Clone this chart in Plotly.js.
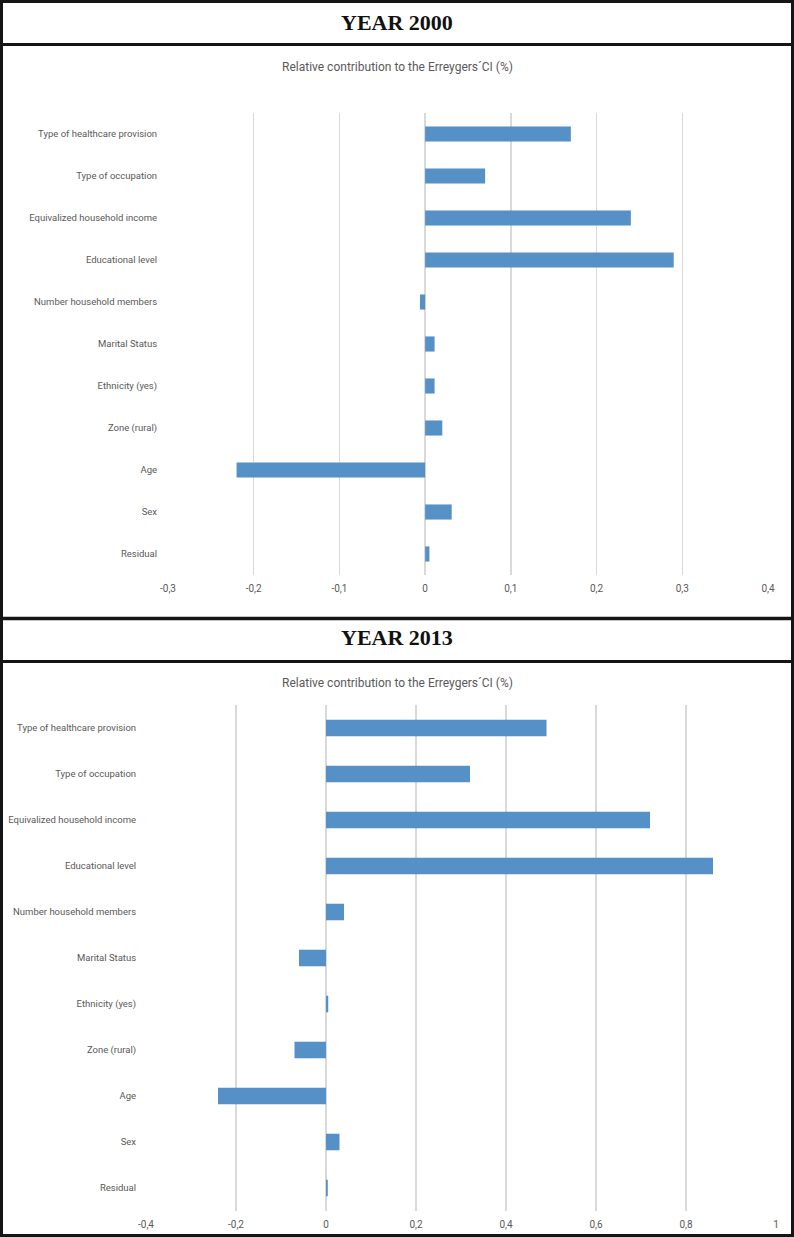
<!DOCTYPE html>
<html>
<head>
<meta charset="utf-8">
<script src="https://cdn.plot.ly/plotly-3.0.1.min.js"></script>
<style>
  html, body { margin: 0; padding: 0; background: #ffffff; }
  #chart { width: 794px; height: 1237px; }
</style>
</head>
<body>
<div id="chart"></div>
<script>
// ---- Data ----
const categories = [
  "Type of healthcare provision",
  "Type of occupation",
  "Equivalized household income",
  "Educational level",
  "Number household members",
  "Marital Status",
  "Ethnicity (yes)",
  "Zone (rural)",
  "Age",
  "Sex",
  "Residual"
];
const values2000 = [0.17, 0.07, 0.24, 0.29, -0.006, 0.011, 0.011, 0.02, -0.22, 0.031, 0.005];
const values2013 = [0.49, 0.32, 0.72, 0.86, 0.04, -0.06, 0.005, -0.07, -0.24, 0.03, 0.004];

const tickVals2000 = [-0.3, -0.2, -0.1, 0, 0.1, 0.2, 0.3, 0.4];
const tickText2000 = ["-0,3", "-0,2", "-0,1", "0", "0,1", "0,2", "0,3", "0,4"];
const tickVals2013 = [-0.4, -0.2, 0, 0.2, 0.4, 0.6, 0.8, 1];
const tickText2013 = ["-0,4", "-0,2", "0", "0,2", "0,4", "0,6", "0,8", "1"];

const headers = ["YEAR 2000", "YEAR 2013"];
const subtitle = "Relative contribution to the Erreygers\u00B4CI (%)";

// ---- Layout helpers (pixel -> paper) ----
const W = 794, H = 1237;
const px = x => x / W;
const py = y => 1 - y / H;

const barColor = "#5590c7";
const gridColor = "#d9d9d9";
const fam = "Roboto, Arial, sans-serif";
const yLabelFont = { family: fam, size: 9.5, color: "#595959" };
const xLabelFont = { family: fam, size: 10, color: "#595959" };

const traces = [
  {
    type: "bar", orientation: "h",
    y: categories, x: values2000,
    xaxis: "x", yaxis: "y",
    marker: { color: barColor },
    width: 0.36
  },
  {
    type: "bar", orientation: "h",
    y: categories, x: values2013,
    xaxis: "x2", yaxis: "y2",
    marker: { color: barColor },
    width: 0.36
  }
];

function xAxis(domain, range, vals, text, anchor) {
  return {
    domain: domain, range: range, anchor: anchor,
    tickvals: vals, ticktext: text,
    showgrid: true, gridcolor: gridColor, gridwidth: 1.5,
    zeroline: false, showline: false,
    ticks: "outside", ticklen: 4, tickcolor: "rgba(0,0,0,0)",
    tickfont: xLabelFont, fixedrange: true
  };
}
function yAxis(domain, anchor, standoff) {
  return {
    domain: domain, anchor: anchor,
    type: "category", categoryorder: "array", categoryarray: categories,
    range: [categories.length - 0.5, -0.5],
    showgrid: false, zeroline: false, showline: false,
    ticks: "outside", ticklen: standoff, tickcolor: "rgba(0,0,0,0)",
    tickfont: yLabelFont, fixedrange: true
  };
}

const layout = {
  width: W, height: H,
  margin: { l: 0, r: 0, t: 0, b: 0 },
  paper_bgcolor: "#ffffff", plot_bgcolor: "rgba(0,0,0,0)",
  showlegend: false,
  hovermode: false,
  xaxis: xAxis([px(168), px(768)], [-0.3, 0.4], tickVals2000, tickText2000, "y"),
  yaxis: yAxis([py(575), py(113)], "x", 8),
  xaxis2: xAxis([px(146), px(776)], [-0.4, 1.0], tickVals2013, tickText2013, "y2"),
  yaxis2: yAxis([py(1211), py(705)], "x2", 7),
  shapes: [
    { type: "rect", xref: "paper", yref: "paper", x0: px(1.5), x1: px(792.5), y0: py(1.5), y1: py(1235.5),
      line: { color: "#151515", width: 3 } },
    { type: "line", xref: "paper", yref: "paper", x0: 0, x1: 1, y0: py(44.5), y1: py(44.5),
      line: { color: "#151515", width: 3 } },
    { type: "line", xref: "paper", yref: "paper", x0: 0, x1: 1, y0: py(618.5), y1: py(618.5),
      line: { color: "#151515", width: 3.5 } },
    { type: "line", xref: "paper", yref: "paper", x0: 0, x1: 1, y0: py(661.5), y1: py(661.5),
      line: { color: "#151515", width: 3 } }
  ],
  annotations: [
    { xref: "paper", yref: "paper", x: px(397), y: py(22), text: "<b>" + headers[0] + "</b>", showarrow: false,
      xanchor: "center", yanchor: "middle",
      font: { family: "Liberation Serif, Times New Roman, serif", size: 22, color: "#111111" } },
    { xref: "paper", yref: "paper", x: px(397), y: py(67), text: subtitle, showarrow: false,
      xanchor: "center", yanchor: "middle",
      font: { family: fam, size: 12, color: "#595959" } },
    { xref: "paper", yref: "paper", x: px(397), y: py(637), text: "<b>" + headers[1] + "</b>", showarrow: false,
      xanchor: "center", yanchor: "middle",
      font: { family: "Liberation Serif, Times New Roman, serif", size: 22, color: "#111111" } },
    { xref: "paper", yref: "paper", x: px(397), y: py(683), text: subtitle, showarrow: false,
      xanchor: "center", yanchor: "middle",
      font: { family: fam, size: 12, color: "#595959" } }
  ]
};

Plotly.newPlot("chart", traces, layout, { staticPlot: true, displayModeBar: false });
</script>
</body>
</html>
